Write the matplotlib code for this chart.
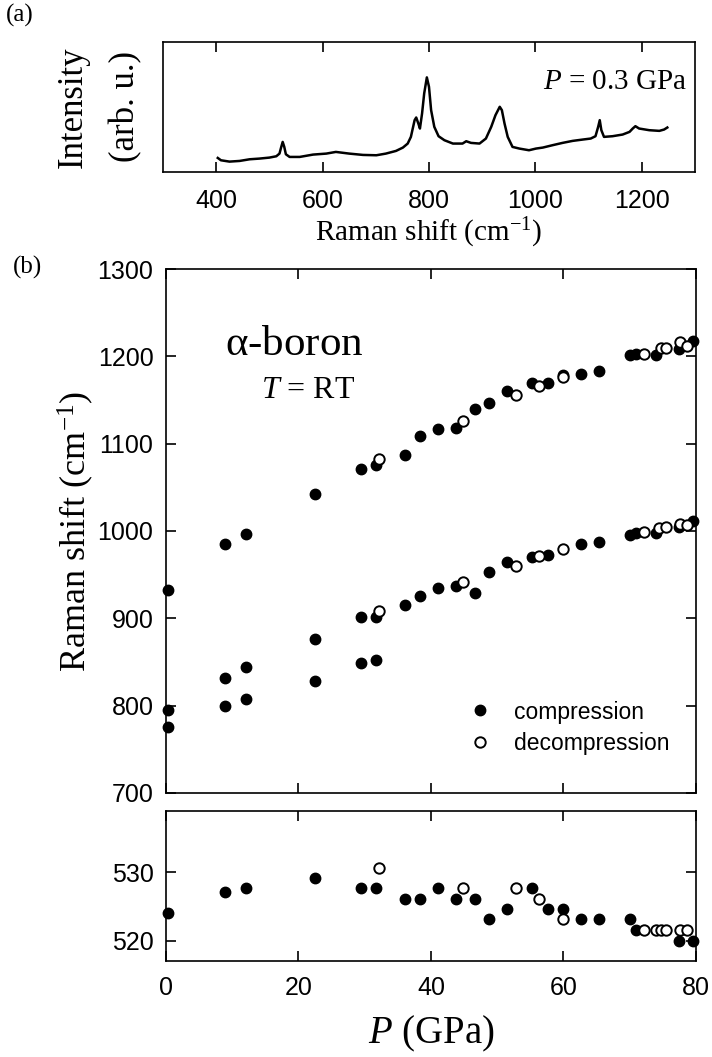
import numpy as np
import matplotlib
matplotlib.use('Agg')
import matplotlib.pyplot as plt
from matplotlib.lines import Line2D

plt.rcParams['font.family'] = 'Liberation Serif'
plt.rcParams['mathtext.fontset'] = 'custom'
plt.rcParams['mathtext.rm'] = 'Liberation Serif'
plt.rcParams['mathtext.it'] = 'Liberation Serif:italic'
plt.rcParams['axes.linewidth'] = 1.2
plt.rcParams['xtick.direction'] = 'in'
plt.rcParams['ytick.direction'] = 'in'
plt.rcParams['xtick.major.size'] = 7.5
plt.rcParams['ytick.major.size'] = 7.5
plt.rcParams['xtick.major.width'] = 1.2
plt.rcParams['ytick.major.width'] = 1.2
plt.rcParams['xtick.top'] = True
plt.rcParams['ytick.right'] = True

# Raman spectrum at 0.3 GPa (arb. units)
spec_shift = [403, 409, 425, 444, 463, 481, 500, 513, 519, 522, 525, 528, 531, 538,
              557, 582, 607, 625, 650, 676, 701, 719, 738, 751, 760, 766, 773, 776,
              780, 783, 787, 791, 796, 800, 804, 810, 818, 829, 845, 863, 870, 879,
              895, 907, 917, 925, 933, 937, 942, 948, 957, 970, 988, 1001, 1014, 1032,
              1051, 1070, 1089, 1104, 1113, 1118, 1121, 1124, 1129, 1145, 1164, 1177,
              1183, 1188, 1195, 1214, 1233, 1242, 1248]
spec_int = [42, 35, 31, 33, 38, 40, 43, 47, 55, 73, 90, 75, 53, 45,
            45, 52, 55, 60, 55, 51, 50, 55, 63, 73, 85, 105, 155, 163,
            145, 130, 175, 235, 283, 255, 185, 135, 107, 95, 85, 85, 92, 87,
            85, 100, 135, 170, 195, 185, 145, 105, 75, 70, 65, 70, 73, 80,
            87, 93, 97, 100, 107, 135, 155, 125, 105, 107, 112, 120,
            130, 137, 130, 125, 123, 127, 133]

# compression / decompression runs, P in GPa, shift in cm^-1
comp_P_hi = [8.9, 12.1, 22.5, 29.4, 31.7, 36.1, 38.4, 41.1, 43.8, 46.7, 48.8, 51.5,
             55.3, 57.7, 59.9, 62.7, 65.4, 70.1, 70.9, 74.0, 77.4, 79.5]
comp_hi = [985, 997, 1042, 1071, 1075, 1087, 1109, 1117, 1118, 1140, 1147, 1160,
           1169, 1169, 1179, 1180, 1183, 1201, 1203, 1202, 1208, 1218]
decomp_P_hi = [32.2, 44.8, 52.9, 56.3, 59.9, 72.2, 74.7, 75.4, 77.6, 78.7]
decomp_hi = [1083, 1126, 1156, 1166, 1176, 1203, 1210, 1210, 1216, 1212]

comp_P_mid = [0.3, 8.9, 12.1, 22.5, 29.4, 31.7, 36.1, 38.4, 41.1, 43.8, 46.7, 48.8,
              51.5, 55.3, 57.7, 62.7, 65.4, 70.1, 70.9, 74.0, 77.4, 79.5]
comp_mid = [932, 832, 844, 876, 901, 902, 915, 926, 935, 937, 929, 953,
            965, 970, 973, 985, 987, 995, 998, 998, 1005, 1012]
decomp_P_mid = [32.2, 44.8, 52.9, 56.3, 59.9, 72.2, 74.4, 75.4, 77.6, 78.7]
decomp_mid = [908, 942, 960, 971, 979, 999, 1003, 1004, 1008, 1007]

comp_P_lo = [0.3, 0.3, 8.9, 12.1, 22.5, 29.4, 31.7]
comp_lo = [795, 776, 800, 808, 828, 849, 852]

comp_P_520 = [0.3, 8.9, 12.1, 22.5, 29.4, 31.7, 36.1, 38.4, 41.1, 43.8, 46.7, 48.8,
              51.5, 55.3, 57.7, 59.9, 62.7, 65.4, 70.1, 70.9, 77.4, 79.5]
comp_520 = [524.1, 527.1, 527.7, 529.2, 527.7, 527.7, 526.1, 526.1, 527.7, 526.1, 526.1, 523.1,
            524.6, 527.7, 524.6, 524.6, 523.1, 523.1, 523.1, 521.5, 520.0, 520.0]
decomp_P_520 = [32.2, 44.8, 52.9, 56.3, 59.9, 72.2, 74.0, 74.7, 75.4, 77.6, 78.7]
decomp_520 = [530.7, 527.7, 527.7, 526.1, 523.1, 521.5, 521.5, 521.5, 521.5, 521.5, 521.5]

fig = plt.figure(figsize=(7.12, 10.57), dpi=100)

sans = 'Liberation Sans'
tick_fs = 18
filled = dict(marker='o', ms=7.5, mfc='k', mec='k', ls='none', clip_on=False, zorder=3)
hollow = dict(marker='o', ms=7.5, mfc='w', mec='k', mew=1.4, ls='none', clip_on=False, zorder=4)

# (a) spectrum
ax_a = fig.add_axes([0.2289, 0.8373, 0.7472, 0.1230])
ax_a.plot(spec_shift, spec_int, color='k', lw=1.8)
ax_a.set_xlim(300, 1300)
ax_a.set_ylim(0, 389)
ax_a.set_xticks([400, 600, 800, 1000, 1200])
ax_a.set_yticks([])
ax_a.tick_params(axis='x', pad=12)
for lab in ax_a.get_xticklabels():
    lab.set_fontfamily(sans)
    lab.set_fontsize(tick_fs)
ax_a.set_xlabel('Raman shift (cm$^{-1}$)', fontsize=21, labelpad=2)
ax_a.set_ylabel('Intensity\n(arb. u.)', fontsize=25, linespacing=1.8)
ax_a.yaxis.set_label_coords(-0.038, 0.5)
ax_a.text(0.985, 0.69, '$P$ = 0.3 GPa', transform=ax_a.transAxes, ha='right',
          va='center', fontsize=21)

# (b) main panel
ax_b = fig.add_axes([0.2331, 0.2498, 0.7444, 0.4957])
ax_b.plot(comp_P_hi, comp_hi, **filled)
ax_b.plot(comp_P_mid, comp_mid, **filled)
ax_b.plot(comp_P_lo, comp_lo, **filled)
ax_b.plot(decomp_P_hi, decomp_hi, **hollow)
ax_b.plot(decomp_P_mid, decomp_mid, **hollow)
ax_b.set_xlim(0, 80)
ax_b.set_ylim(700, 1300)
ax_b.set_xticks([0, 20, 40, 60, 80])
ax_b.set_yticks(range(700, 1301, 100))
ax_b.tick_params(axis='x', labelbottom=False)
ax_b.tick_params(axis='y', pad=9)
for lab in ax_b.get_yticklabels():
    lab.set_fontfamily(sans)
    lab.set_fontsize(tick_fs)
ax_b.set_ylabel('Raman shift (cm$^{-1}$)', fontsize=26)
ax_b.yaxis.set_label_coords(-0.132, 0.5)
ax_b.text(0.111, 0.855, r'$\mathrm{\alpha}$-boron', transform=ax_b.transAxes,
          fontsize=31, va='center', ha='left')
ax_b.text(0.179, 0.769, '$T$ = RT', transform=ax_b.transAxes,
          fontsize=23, va='center', ha='left')

handles = [Line2D([], [], marker='o', ms=7.5, mfc='k', mec='k', ls='none'),
           Line2D([], [], marker='o', ms=7.5, mfc='w', mec='k', mew=1.4, ls='none')]
ax_b.legend(handles, ['compression', 'decompression'], loc='lower left',
            bbox_to_anchor=(0.51, 0.034), frameon=False, handletextpad=0.5,
            labelspacing=0.35, prop={'family': sans, 'size': 16.5})

# (b) lower panel
ax_c = fig.add_axes([0.2331, 0.0908, 0.7444, 0.1419])
ax_c.plot(comp_P_520, comp_520, **filled)
ax_c.plot(decomp_P_520, decomp_520, **hollow)
ax_c.set_xlim(0, 80)
ax_c.set_ylim(517, 539)
ax_c.set_xticks([0, 20, 40, 60, 80])
ax_c.set_yticks([520, 530])
ax_c.tick_params(axis='x', pad=11)
ax_c.tick_params(axis='y', pad=9)
for lab in ax_c.get_xticklabels() + ax_c.get_yticklabels():
    lab.set_fontfamily(sans)
    lab.set_fontsize(tick_fs)
ax_c.set_xlabel('$P$ (GPa)', fontsize=28, labelpad=10)

fig.text(20 / 712, 1 - 15 / 1057, '(a)', fontsize=18, ha='center', va='center')
fig.text(28 / 712, 1 - 267 / 1057, '(b)', fontsize=18, ha='center', va='center')

fig.savefig('out.png', dpi=100)
